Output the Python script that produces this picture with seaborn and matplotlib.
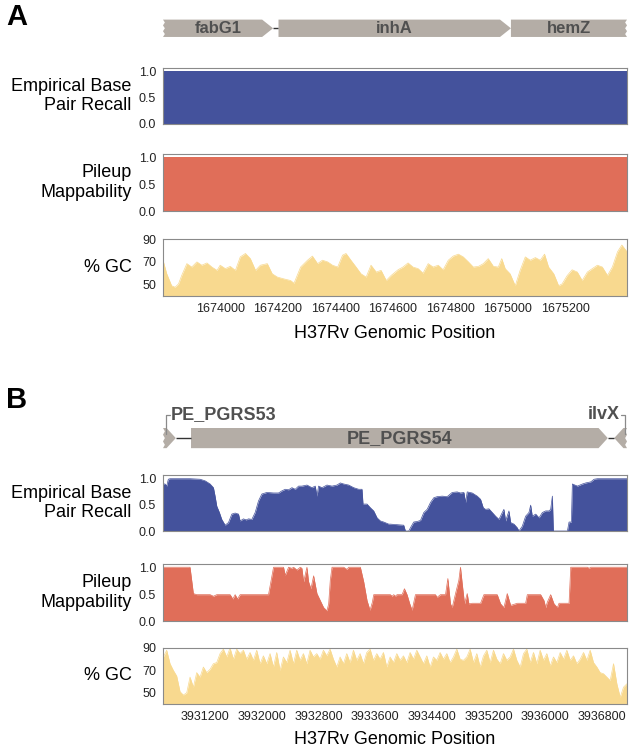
import numpy as np
import matplotlib
matplotlib.use("Agg")
import matplotlib.pyplot as plt
from matplotlib.patches import Polygon
import seaborn as sns

sns.set_theme(style="white")
plt.rcParams['font.family'] = ['Liberation Sans', 'DejaVu Sans']
plt.rcParams['text.color'] = 'black'
plt.rcParams['axes.labelcolor'] = 'black'

# ---------------- data ----------------
# panel A : inhA region
xlim_a = (1673800, 1675415)
genes_a = [("fabG1", 1673440, 1674183, "+"),
           ("inhA", 1674202, 1675011, "+"),
           ("hemZ", 1675011, 1676046, "+")]
recall_a_pos = [1673800, 1675415]
recall_a = [1.0, 1.0]
mapp_a_pos = [1673800, 1675415]
mapp_a = [1.0, 1.0]
gc_a_pos = [1673800, 1673813, 1673830, 1673842, 1673854, 1673865, 1673883, 1673900, 1673918, 1673935,
            1673953, 1673970, 1673988, 1673999, 1674017, 1674034, 1674052, 1674069, 1674087, 1674104,
            1674122, 1674139, 1674163, 1674180, 1674198, 1674221, 1674244, 1674256, 1674279, 1674303,
            1674320, 1674338, 1674355, 1674373, 1674390, 1674408, 1674425, 1674437, 1674454, 1674472,
            1674489, 1674507, 1674524, 1674542, 1674559, 1674577, 1674594, 1674618, 1674635, 1674653,
            1674670, 1674688, 1674705, 1674723, 1674740, 1674758, 1674775, 1674793, 1674810, 1674828,
            1674845, 1674863, 1674880, 1674898, 1674915, 1674932, 1674950, 1674967, 1674979, 1674991,
            1675008, 1675026, 1675043, 1675061, 1675078, 1675096, 1675113, 1675128, 1675142, 1675160,
            1675177, 1675189, 1675207, 1675224, 1675242, 1675259, 1675277, 1675294, 1675312, 1675329,
            1675347, 1675364, 1675382, 1675397, 1675411, 1675420]
gc_a = [71.4, 59.5, 49, 47.7, 50.6, 58, 68.4, 65.4, 69.9, 67,
        69, 65.4, 62.5, 67, 64, 66, 62.5, 74.3, 77.3, 72.8,
        62.5, 67, 68.4, 59.5, 56.6, 55, 53.6, 51.2, 65.4, 71.4,
        75, 68.4, 71.4, 69.9, 67, 65.4, 75.8, 77.3, 71.4, 65.4,
        59.5, 56.6, 67, 61, 62.5, 53.6, 58, 63, 65.4, 69,
        65.4, 64, 60, 68.4, 65.4, 67, 63, 71.4, 75, 76.7,
        74.3, 69.9, 65.4, 66, 68.4, 72.8, 66, 65.4, 72.8, 64,
        59.5, 49, 62.5, 74.3, 71.4, 73.7, 71.4, 76.7, 65.4, 59.5,
        49, 50.6, 58, 63, 61, 53.6, 61, 64, 67, 65.4,
        58, 65.4, 78.8, 84.7, 80.2, 76.7]
xticks_a = [1674000, 1674200, 1674400, 1674600, 1674800, 1675000, 1675200]

# panel B : PE_PGRS54 region
xlim_b = (3930610, 3937150)
genes_b = [("PE_PGRS53", 3926953, 3930790, "+"),
           ("PE_PGRS54", 3931005, 3936879, "+"),
           ("ilvX", 3936970, 3938505, "-")]
recall_b_pos = [3930610, 3930638, 3930662, 3930685, 3930709, 3930850, 3930991, 3931132, 3931203, 3931274,
                3931321, 3931344, 3931368, 3931405, 3931438, 3931486, 3931533, 3931580, 3931627, 3931674,
                3931697, 3931744, 3931782, 3931815, 3931862, 3931909, 3931956, 3932003, 3932074, 3932168,
                3932239, 3932286, 3932333, 3932380, 3932427, 3932474, 3932521, 3932568, 3932639, 3932709,
                3932756, 3932780, 3932803, 3932851, 3932921, 3932992, 3933062, 3933109, 3933156, 3933227,
                3933298, 3933368, 3933415, 3933429, 3933486, 3933533, 3933580, 3933627, 3933674, 3933721,
                3933792, 3933815, 3934003, 3934027, 3934074, 3934097, 3934144, 3934192, 3934239, 3934286,
                3934333, 3934380, 3934427, 3934474, 3934545, 3934615, 3934686, 3934756, 3934803, 3934851,
                3934874, 3934898, 3934968, 3935039, 3935086, 3935124, 3935156, 3935204, 3935251, 3935298,
                3935345, 3935392, 3935415, 3935439, 3935486, 3935510, 3935557, 3935604, 3935627, 3935674,
                3935721, 3935768, 3935792, 3935815, 3935863, 3935910, 3935957, 3936004, 3936051, 3936074,
                3936098, 3936112, 3936169, 3936310, 3936333, 3936366, 3936380, 3936451, 3936522, 3936569,
                3936639, 3936686, 3936733, 3936875, 3937162]
recall_b = [0.89, 0.89, 0.85, 0.98, 0.99, 0.99, 0.99, 0.98, 0.95, 0.89,
            0.82, 0.66, 0.47, 0.35, 0.22, 0.11, 0.16, 0.32, 0.34, 0.32,
            0.19, 0.23, 0.21, 0.23, 0.22, 0.35, 0.57, 0.70, 0.73, 0.72,
            0.72, 0.76, 0.79, 0.78, 0.82, 0.79, 0.85, 0.85, 0.87, 0.82,
            0.85, 0.66, 0.85, 0.82, 0.87, 0.85, 0.87, 0.91, 0.89, 0.87,
            0.82, 0.79, 0.79, 0.51, 0.51, 0.44, 0.38, 0.25, 0.19, 0.17,
            0.13, 0.13, 0.11, 0.0, 0.0, 0.06, 0.17, 0.18, 0.20, 0.35,
            0.41, 0.54, 0.63, 0.65, 0.66, 0.65, 0.73, 0.74, 0.72, 0.73,
            0.54, 0.74, 0.72, 0.66, 0.60, 0.44, 0.41, 0.42, 0.35, 0.28,
            0.22, 0.35, 0.41, 0.19, 0.38, 0.16, 0.13, 0.06, 0.0, 0.09,
            0.28, 0.35, 0.49, 0.28, 0.32, 0.25, 0.35, 0.38, 0.38, 0.41,
            0.66, 0.0, 0.0, 0.0, 0.17, 0.17, 0.89, 0.85, 0.89, 0.91,
            0.93, 0.98, 0.99, 0.99, 0.99]
mapp_b_pos = [3930610, 3930991, 3931038, 3931085, 3931180, 3931274, 3931321, 3931368, 3931556, 3931594,
              3931627, 3931660, 3931697, 3932097, 3932168, 3932309, 3932333, 3932380, 3932427, 3932450,
              3932497, 3932545, 3932568, 3932592, 3932639, 3932662, 3932695, 3932733, 3932780, 3932827,
              3932874, 3932921, 3932945, 3932968, 3932992, 3933156, 3933204, 3933227, 3933392, 3933439,
              3933486, 3933528, 3933561, 3933580, 3933815, 3933839, 3933862, 3933886, 3933909, 3933980,
              3934013, 3934050, 3934088, 3934121, 3934168, 3934450, 3934474, 3934521, 3934592, 3934625,
              3934662, 3934686, 3934733, 3934780, 3934803, 3934827, 3934860, 3934898, 3934921, 3934968,
              3935086, 3935133, 3935321, 3935368, 3935415, 3935462, 3935510, 3935604, 3935721, 3935745,
              3935933, 3935980, 3936004, 3936027, 3936074, 3936121, 3936169, 3936192, 3936333, 3936357,
              3936592, 3936616, 3936639, 3937162]
mapp_b = [1.0, 1.0, 0.51, 0.49, 0.49, 0.49, 0.46, 0.49, 0.49, 0.41,
          0.49, 0.41, 0.49, 0.49, 1.0, 1.0, 0.85, 1.0, 0.98, 1.0,
          0.95, 1.0, 0.98, 0.73, 1.0, 0.73, 0.60, 0.84, 0.51, 0.38,
          0.25, 0.19, 0.32, 0.76, 1.0, 1.0, 0.96, 1.0, 1.0, 0.73,
          0.38, 0.20, 0.35, 0.49, 0.49, 0.46, 0.49, 0.46, 0.49, 0.49,
          0.60, 0.49, 0.32, 0.20, 0.49, 0.49, 0.44, 0.49, 0.49, 0.79,
          0.32, 0.25, 0.51, 0.76, 1.0, 0.70, 0.32, 0.51, 0.32, 0.33,
          0.33, 0.49, 0.49, 0.32, 0.25, 0.51, 0.29, 0.33, 0.33, 0.49,
          0.49, 0.38, 0.25, 0.35, 0.49, 0.32, 0.25, 0.33, 0.33, 1.0,
          1.0, 0.98, 1.0, 1.0]
# GC computed in fixed windows
gc_b_start, gc_b_step = 3930615, 47
gc_b = [82, 88, 76, 70, 65, 51, 48, 50, 64, 55, 68, 64, 73, 68, 71, 76, 77, 85, 89, 82,
        90, 80, 89, 85, 88, 80, 86, 79, 88, 76, 83, 76, 85, 73, 86, 70, 82, 77, 88, 76,
        88, 79, 85, 76, 88, 82, 85, 80, 88, 83, 89, 80, 73, 82, 76, 85, 77, 88, 79, 85,
        76, 86, 89, 79, 85, 80, 86, 73, 82, 77, 85, 79,
        83, 77, 86, 80, 88, 82, 76, 83, 73, 82, 79, 86, 80, 85, 77, 82, 89, 80, 79, 82,
        89, 77, 85, 73, 83, 88, 77, 88, 80, 76, 85, 79, 82, 89, 79, 73, 85, 89, 77, 86,
        76, 88, 79, 85, 74, 82, 77, 86, 80, 88, 79, 83, 76, 80, 86, 79, 88, 77, 73, 68,
        67, 64, 61, 76, 58, 46, 55, 58]
gc_b_pos = gc_b_start + gc_b_step * np.arange(len(gc_b))
xticks_b = [3931200, 3932000, 3932800, 3933600, 3934400, 3935200, 3936000, 3936800]

# ---------------- style ----------------
c_recall = "#44529c"
c_mapp = "#e06e59"
c_gc = "#f8d98f"
c_gene = "#b4ada6"
c_frame = "#8a8a8a"
c_gtext = "#505050"
W, H = 633, 751

fig = plt.figure(figsize=(W / 100, H / 100), dpi=100)


def add_ax(top, bottom):
    return fig.add_axes([163 / W, 1 - bottom / H, 464 / W, (bottom - top) / H])


def frame(ax):
    for s in ax.spines.values():
        s.set_visible(True)
        s.set_color(c_frame)
        s.set_linewidth(0.8)
    ax.tick_params(axis="both", which="both", direction="out", length=3, width=0.7,
                   color=c_frame, labelsize=9, labelcolor="#222222", pad=2)


def track(ax, pos, vals, color, xlim, ylim, label, yticks, yticklabels):
    ax.fill_between(pos, ylim[0], vals, color=color, linewidth=0)
    sns.lineplot(x=pos, y=vals, ax=ax, color=color, linewidth=0.5,
                 estimator=None, sort=False)
    ax.set_xlim(*xlim)
    ax.set_ylim(*ylim)
    ax.set_yticks(yticks)
    ax.set_yticklabels(yticklabels)
    ax.set_xticks([])
    ax.set_xlabel("")
    ax.set_ylabel(label, rotation=0, ha="right", va="center", fontsize=13,
                  multialignment="right")
    ax.yaxis.set_label_coords(-0.068, 0.5)
    frame(ax)


def gene_track(ax, genes, xlim, y0, y1, tip):
    ax.set_xlim(*xlim)
    ax.set_ylim(1, 0)
    ax.axis("off")
    mid = (y0 + y1) / 2
    span = xlim[1] - xlim[0]
    zz = span * 0.004
    # connectors between neighbouring genes
    for (n1, s1, e1, d1), (n2, s2, e2, d2) in zip(genes[:-1], genes[1:]):
        ax.plot([e1, s2], [mid, mid], color="#333333", lw=1.0, solid_capstyle="butt")
    for name, s, e, strand in genes:
        cut_l = s < xlim[0]
        cut_r = e > xlim[1]
        a, b = max(s, xlim[0]), min(e, xlim[1])
        pts = []
        if strand == "-" and not cut_l:
            pts += [(a, mid), (a + tip, y0)]
        else:
            pts += [(a, y0)]
        if strand == "+" and not cut_r:
            pts += [(b - tip, y0), (b, mid), (b - tip, y1)]
        else:
            pts += [(b, y0)]
            if cut_r:
                ys = np.linspace(y0, y1, 7)
                pts += [(b - (zz if i % 2 else 0), yy) for i, yy in enumerate(ys)]
            pts += [(b, y1)]
        if strand == "-" and not cut_l:
            pts += [(a + tip, y1)]
        else:
            pts += [(a, y1)]
            if cut_l:
                ys = np.linspace(y1, y0, 7)
                pts += [(a + (zz if i % 2 else 0), yy) for i, yy in enumerate(ys)]
        ax.add_patch(Polygon(pts, closed=True, facecolor=c_gene, edgecolor="none",
                             clip_on=False))
    return mid


# ---------------- panel A ----------------
ax = add_ax(14, 42)
mid = gene_track(ax, genes_a, xlim_a, 0.2, 0.82, tip=38)
for name, s, e, strand in genes_a:
    a, b = max(s, xlim_a[0]), min(e, xlim_a[1])
    ax.text((a + b) / 2, mid, name, ha="center", va="center", fontsize=12,
            fontweight="bold", color=c_gtext)
fig.text(6 / W, 1 - 17 / H, "A", fontsize=21, fontweight="bold", va="center", ha="left")

ax = add_ax(68, 124)
track(ax, recall_a_pos, recall_a, c_recall, xlim_a, (0, 1.06),
      "Empirical Base\nPair Recall", [0, 0.5, 1.0], ["0.0", "0.5", "1.0"])
ax = add_ax(154, 211)
track(ax, mapp_a_pos, mapp_a, c_mapp, xlim_a, (0, 1.06),
      "Pileup\nMappability", [0, 0.5, 1.0], ["0.0", "0.5", "1.0"])
ax = add_ax(239, 296)
track(ax, gc_a_pos, gc_a, c_gc, xlim_a, (40, 90),
      "% GC", [50, 60, 70, 80, 90], ["50", "", "70", "", "90"])
ax.set_xticks(xticks_a)
ax.set_xticklabels([str(t) for t in xticks_a])
ax.set_xlabel("H37Rv Genomic Position", fontsize=13, labelpad=7)
frame(ax)

# ---------------- panel B ----------------
ax = add_ax(404, 452)
mid = gene_track(ax, genes_b, xlim_b, 0.5, 0.92, tip=130)
ax.text((genes_b[1][1] + genes_b[1][2]) / 2, mid, genes_b[1][0], ha="center",
        va="center", fontsize=13, fontweight="bold", color=c_gtext)
xl = xlim_b[0] + 45
ax.plot([xl, xl, xl + 60], [0.62, 0.22, 0.22], color="#8a8a8a", lw=0.9)
ax.text(xl + 70, 0.22, genes_b[0][0], ha="left", va="center", fontsize=13,
        fontweight="bold", color=c_gtext)
xr = xlim_b[1] - 30
ax.plot([xr, xr, xr - 60], [0.62, 0.22, 0.22], color="#8a8a8a", lw=0.9)
ax.text(xr - 70, 0.22, genes_b[2][0], ha="right", va="center", fontsize=13,
        fontweight="bold", color=c_gtext)
fig.text(6 / W, 1 - 400 / H, "B", fontsize=21, fontweight="bold", va="center", ha="left")

ax = add_ax(475, 531)
track(ax, recall_b_pos, recall_b, c_recall, xlim_b, (0, 1.06),
      "Empirical Base\nPair Recall", [0, 0.5, 1.0], ["0.0", "0.5", "1.0"])
ax = add_ax(564, 621)
track(ax, mapp_b_pos, mapp_b, c_mapp, xlim_b, (0, 1.06),
      "Pileup\nMappability", [0, 0.5, 1.0], ["0.0", "0.5", "1.0"])
ax = add_ax(648, 704)
track(ax, gc_b_pos, gc_b, c_gc, xlim_b, (40, 90),
      "% GC", [50, 60, 70, 80, 90], ["50", "", "70", "", "90"])
ax.set_xticks(xticks_b)
ax.set_xticklabels([str(t) for t in xticks_b])
ax.set_xlabel("H37Rv Genomic Position", fontsize=13, labelpad=6)
frame(ax)

fig.savefig("out.png", dpi=100)
